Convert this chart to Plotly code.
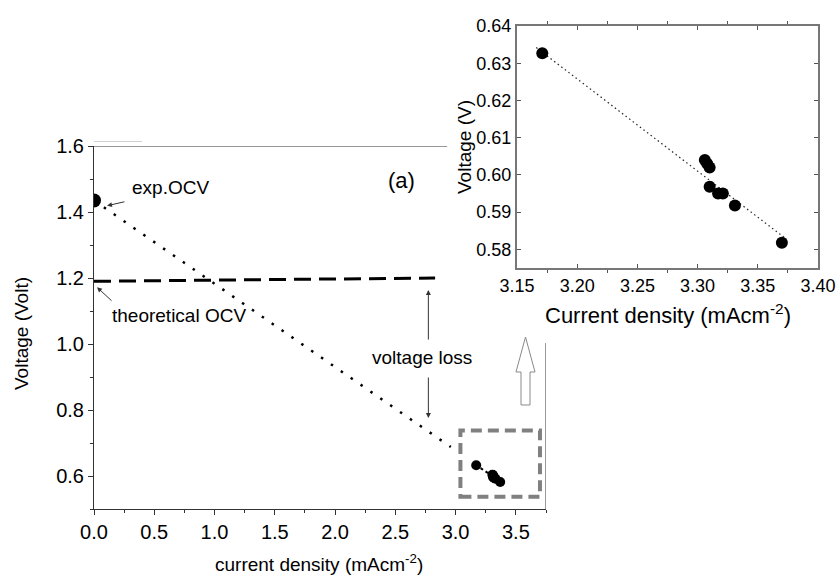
import plotly.graph_objects as go

W, H = 838, 576
FONT = "Liberation Sans, Arial, sans-serif"

# ---- data ----
ocv_x = [0.0]
ocv_y = [1.435]
theo_x = [0.0, 2.83]
theo_y = [1.19, 1.20]
fit_main_x = [0.0, 2.96]
fit_main_y = [1.435, 0.688]

cd = [3.171, 3.306, 3.308, 3.310, 3.310, 3.317, 3.321, 3.331, 3.370]
volt = [0.6327, 0.6040, 0.6030, 0.6020, 0.5968, 0.5950, 0.5950, 0.5918, 0.5818]
fit_x = [3.166, 3.374]
fit_y = [0.6342, 0.5827]

main_xticks = [0.0, 0.5, 1.0, 1.5, 2.0, 2.5, 3.0, 3.5]
main_yticks = [0.6, 0.8, 1.0, 1.2, 1.4, 1.6]
inset_xticks = [3.15, 3.20, 3.25, 3.30, 3.35, 3.40]
inset_yticks = [0.58, 0.59, 0.60, 0.61, 0.62, 0.63, 0.64]


def px(x, y):
    return x / W, 1 - y / H


fig = go.Figure()

# main chart
fig.add_trace(go.Scatter(x=fit_main_x, y=fit_main_y, mode="lines",
                         line=dict(color="black", width=2.5, dash="2.5px,9.5px"),
                         xaxis="x", yaxis="y", showlegend=False))
fig.add_trace(go.Scatter(x=theo_x, y=theo_y, mode="lines",
                         line=dict(color="black", width=3, dash="17px,8px"),
                         xaxis="x", yaxis="y", showlegend=False))
fig.add_trace(go.Scatter(x=ocv_x, y=ocv_y, mode="markers",
                         marker=dict(color="black", size=14),
                         xaxis="x", yaxis="y", showlegend=False))
fig.add_trace(go.Scatter(x=fit_x, y=fit_y, mode="lines",
                         line=dict(color="black", width=2, dash="3px,3px"),
                         xaxis="x", yaxis="y", showlegend=False))
fig.add_trace(go.Scatter(x=cd, y=volt, mode="markers",
                         marker=dict(color="black", size=10),
                         xaxis="x", yaxis="y", showlegend=False))

# inset
fig.add_trace(go.Scatter(x=fit_x, y=fit_y, mode="lines",
                         line=dict(color="#222", width=1.2, dash="1.5px,3px"),
                         xaxis="x2", yaxis="y2", showlegend=False))
fig.add_trace(go.Scatter(x=cd, y=volt, mode="markers",
                         marker=dict(color="black", size=12),
                         xaxis="x2", yaxis="y2", showlegend=False))

x0, y1 = px(94, 146)
x1, y0 = px(546, 509)
ix0, iy1 = px(517, 26)
ix1, iy0 = px(818, 268)

common = dict(automargin=False, showgrid=False, zeroline=False)

fig.update_layout(
    width=W, height=H,
    margin=dict(l=0, r=0, t=0, b=0, autoexpand=False),
    paper_bgcolor="white", plot_bgcolor="white",
    font=dict(family=FONT, color="black"),
    xaxis=dict(domain=[x0, x1], range=[0, 3.75], anchor="y",
               tickvals=main_xticks, ticktext=[f"{v:.1f}" for v in main_xticks],
               ticks="outside", ticklen=5, tickcolor="#333",
               minor=dict(dtick=0.25, ticks="outside", ticklen=3, tickcolor="#333"),
               showline=True, linecolor="#333", linewidth=1, mirror=False,
               tickfont=dict(size=20), **common),
    yaxis=dict(domain=[y0, y1], range=[0.5, 1.6], anchor="x",
               tickvals=main_yticks, ticktext=[f"{v:.1f}" for v in main_yticks],
               ticks="outside", ticklen=5, tickcolor="#333",
               minor=dict(dtick=0.1, ticks="outside", ticklen=3, tickcolor="#333"),
               showline=True, linecolor="#333", linewidth=1, mirror=False,
               tickfont=dict(size=20), **common),
    xaxis2=dict(domain=[ix0, ix1], range=[3.15, 3.40], anchor="y2",
                tickvals=inset_xticks, ticktext=[f"{v:.2f}" for v in inset_xticks],
                ticks="inside", ticklen=4, tickcolor="#555",
                minor=dict(tick0=3.175, dtick=0.05, ticks="outside", ticklen=3, tickcolor="#555"),
                showline=True, linecolor="#777", linewidth=2, mirror="ticks",
                tickfont=dict(size=18), **common),
    yaxis2=dict(domain=[iy0, iy1], range=[0.575, 0.64], anchor="x2",
                tickvals=inset_yticks, ticktext=[f"{v:.2f}" for v in inset_yticks],
                ticks="inside", ticklen=4, tickcolor="#555",
                showline=True, linecolor="#777", linewidth=2, mirror="ticks",
                tickfont=dict(size=18), **common),
)

shapes = []
# partial frame of main chart (top and right), hidden behind the inset
shapes.append(dict(type="line", xref="x", yref="y", x0=0, x1=2.93, y0=1.6, y1=1.6,
                   line=dict(color="#333", width=1)))
shapes.append(dict(type="line", xref="x", yref="y", x0=3.75, x1=3.75, y0=0.5, y1=1.003,
                   line=dict(color="#333", width=1)))
# faint line above top-left
a, b = px(94, 141.5)
c, d = px(142, 141.5)
shapes.append(dict(type="line", xref="paper", yref="paper", x0=a, x1=c, y0=b, y1=d,
                   line=dict(color="#d0d0d0", width=1)))
# grey dashed zoom box
shapes.append(dict(type="rect", xref="x", yref="y", x0=3.04, x1=3.70, y0=0.537, y1=0.738,
                   line=dict(color="#808080", width=4, dash="11px,6px"), fillcolor="rgba(0,0,0,0)"))
# hollow arrow pointing up
pts = [(525.5, 337), (516, 372), (521, 372), (521, 405), (530, 405), (530, 372), (535, 372)]
path = "M " + " L ".join(f"{px(x, y)[0]:.5f},{px(x, y)[1]:.5f}" for x, y in pts) + " Z"
shapes.append(dict(type="path", xref="paper", yref="paper", path=path,
                   line=dict(color="#8a8a8a", width=1), fillcolor="white"))
fig.update_layout(shapes=shapes)

ann = []
ann.append(dict(x=0.108, y=1.419, xref="x", yref="y", ax=0.265, ay=1.432, axref="x", ayref="y",
                text="", showarrow=True, arrowhead=2, arrowsize=1, arrowwidth=1, arrowcolor="#333"))
ann.append(dict(x=0.025, y=1.172, xref="x", yref="y", ax=0.158, ay=1.127, axref="x", ayref="y",
                text="", showarrow=True, arrowhead=2, arrowsize=1, arrowwidth=1, arrowcolor="#333"))
ann.append(dict(x=2.774, y=1.164, xref="x", yref="y", ax=2.774, ay=1.009, axref="x", ayref="y",
                text="", showarrow=True, arrowhead=2, arrowsize=1, arrowwidth=1, arrowcolor="#333"))
ann.append(dict(x=2.774, y=0.776, xref="x", yref="y", ax=2.774, ay=0.903, axref="x", ayref="y",
                text="", showarrow=True, arrowhead=2, arrowsize=1, arrowwidth=1, arrowcolor="#333"))
# texts: (text, center x px, center y px, size, angle)
texts = [("exp.OCV", 170, 187, 19, 0), ("theoretical OCV", 179, 315, 19, 0),
         ("voltage loss", 422, 357, 19, 0), ("(a)", 401, 180, 22, 0),
         ("current density (mAcm<sup>-2</sup>)", 319, 563, 19, 0),
         ("Voltage (Volt)", 21, 334, 19, -90),
         ("Current density (mAcm<sup>-2</sup>)", 668, 314, 22, 0),
         ("Voltage (V)", 465, 147, 19, -90)]
for text, cx, cy, size, ang in texts:
    xx, yy = px(cx, cy)
    ann.append(dict(x=xx, y=yy, xref="paper", yref="paper", text=text, showarrow=False,
                    textangle=ang, xanchor="center", yanchor="middle",
                    font=dict(size=size, family=FONT, color="black")))
fig.update_layout(annotations=ann)

fig.write_html("out.html")
